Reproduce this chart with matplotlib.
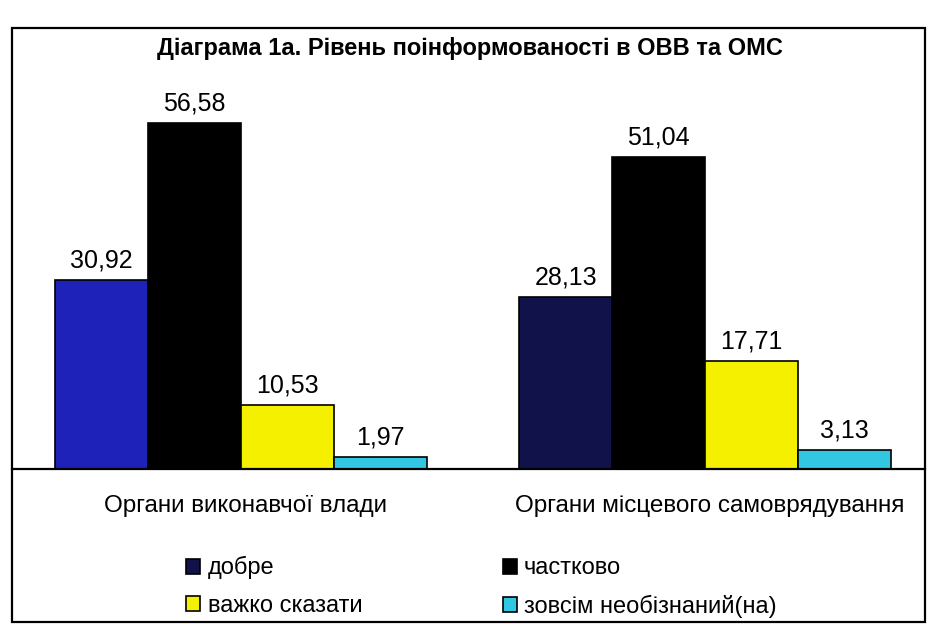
import matplotlib
matplotlib.use("Agg")
import matplotlib.pyplot as plt
from matplotlib.patches import Rectangle, Patch
import numpy as np

# --- дані ---
groups = ["Органи виконавчої влади", "Органи місцевого самоврядування"]
series = ["добре", "частково", "важко сказати", "зовсім необізнаний(на)"]
dobre = [30.92, 28.13]
chastkovo = [56.58, 51.04]
vazhko = [10.53, 17.71]
zovsim = [1.97, 3.13]
title = "Діаграма 1а. Рівень поінформованості в ОВВ та ОМС"

values = [dobre, chastkovo, vazhko, zovsim]
# скан: перша група синіша, друга темніша
colors = [["#1e22b8", "#12124a"], ["#000000", "#000000"],
          ["#f4f000", "#f4f000"], ["#33c6e2", "#33c6e2"]]
leg_colors = ["#12124a", "#000000", "#f4f000", "#33c6e2"]

plt.rcParams["font.family"] = ["Liberation Sans", "DejaVu Sans"]
W, H = 936, 630
fig = plt.figure(figsize=(W/100, H/100), dpi=100)

def px(x0, y0, x1, y1):  # pixel box (top-left origin) -> fig rect
    return [x0/W, 1-y1/H, (x1-x0)/W, (y1-y0)/H]

# рамка
fig.add_artist(Rectangle((12/W, 1-622/H), (925-12)/W, (622-28)/H, transform=fig.transFigure,
                         fill=False, ec="black", lw=1.6))

ax = fig.add_axes(px(12, 62, 925, 469))
x = np.arange(len(groups))
w = 0.2
for i, (vals, cols) in enumerate(zip(values, colors)):
    bars = ax.bar(x + (i-1.5)*w, vals, w, color=cols, edgecolor="black", lw=1.2)
    for b, v in zip(bars, vals):
        ax.annotate(f"{v:.2f}".replace(".", ","), (b.get_x()+b.get_width()/2, v),
                    xytext=(0, 5), textcoords="offset points", ha="center", va="bottom",
                    fontsize=18)
ax.set_xlim(-(241-12)/464, (925-241)/464)
ax.set_ylim(0, (469-62)/6.12)
for s in ("top", "right", "left"):
    ax.spines[s].set_visible(False)
ax.spines["bottom"].set_linewidth(1.6)
ax.set_yticks([])
ax.set_xticks(x + 0.01, groups, fontsize=17.5)
ax.tick_params(axis="x", length=0, pad=19)

fig.text(470/W, 1-48/H, title, ha="center", va="center", fontsize=17, fontweight="bold")

order = [0, 2, 1, 3]
handles = [Patch(fc=leg_colors[k], ec="black", lw=1.2, label=series[k]) for k in order]
fig.legend(handles=handles, ncol=2, loc="center left", bbox_to_anchor=(165/W, 1-587/H),
           frameon=False, fontsize=17, handlelength=0.6, handleheight=0.6,
           handletextpad=0.3, columnspacing=5.95, labelspacing=0.65)

fig.savefig("out.png", dpi=100)
